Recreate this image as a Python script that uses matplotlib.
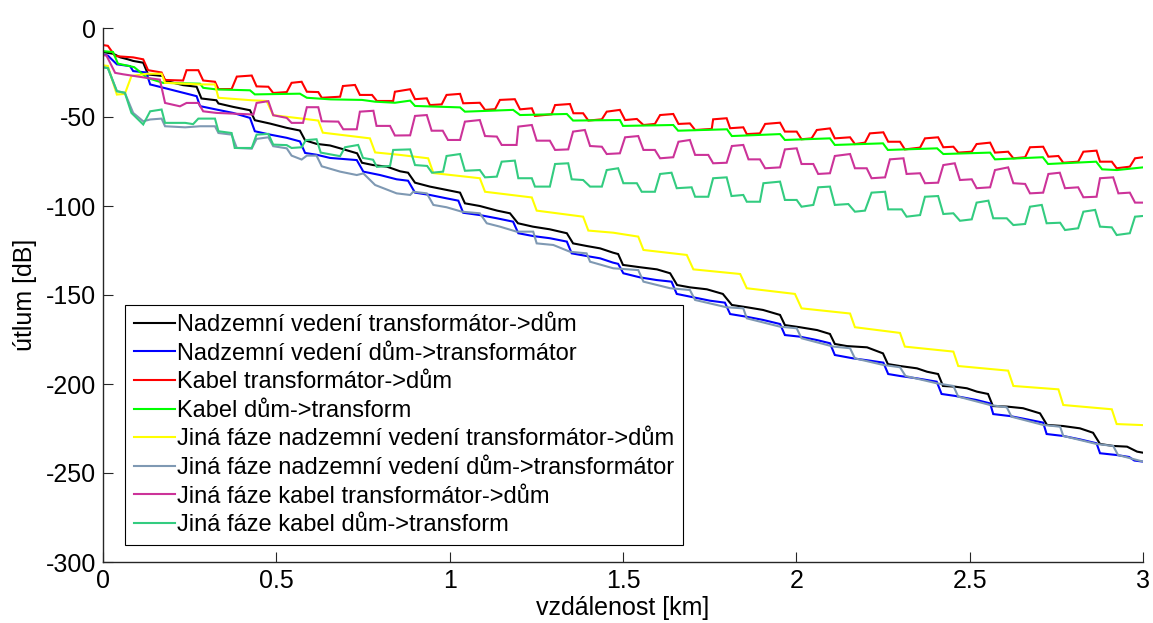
import matplotlib
matplotlib.use("Agg")
import matplotlib.pyplot as plt

plt.rcParams['font.family'] = ['Liberation Sans', 'DejaVu Sans']

# ---------------- data (km, dB) ----------------
labels = [
    "Nadzemní vedení transformátor->dům",
    "Nadzemní vedení dům->transformátor",
    "Kabel transformátor->dům",
    "Kabel dům->transform",
    "Jiná fáze nadzemní vedení transformátor->dům",
    "Jiná fáze nadzemní vedení dům->transformátor",
    "Jiná fáze kabel transformátor->dům",
    "Jiná fáze kabel dům->transform",
]

black_pts = [(0, -13.5), (0.030, -14.5), (0.050, -16.5), (0.072, -17.6), (0.087, -18.5), (0.116, -19.5),
             (0.130, -26.1), (0.173, -27), (0.179, -29.6), (0.231, -32.1), (0.270, -33), (0.284, -39.6),
             (0.327, -40.6), (0.333, -42.4), (0.375, -44.3), (0.424, -46.2), (0.438, -51.8), (0.482, -53.7),
             (0.530, -56.1), (0.568, -57.6), (0.583, -63.1), (0.616, -65.1), (0.655, -66), (0.684, -67.6),
             (0.733, -70.4), (0.747, -75.7), (0.779, -77), (0.819, -77.9), (0.857, -80.5), (0.880, -81.3),
             (0.900, -86.9), (0.943, -89.1), (0.992, -91), (1.030, -92.5), (1.044, -98.5), (1.087, -100),
             (1.137, -102.6), (1.174, -104.1), (1.197, -109.7), (1.240, -111.6), (1.289, -113.1), (1.338, -115.3),
             (1.356, -121), (1.396, -122.5), (1.434, -123.8), (1.471, -126.2), (1.486, -127), (1.500, -133.1),
             (1.549, -134.4), (1.598, -135.6), (1.636, -137.8), (1.656, -144.4), (1.693, -145.7), (1.742, -146.8),
             (1.788, -149.4), (1.814, -155.6), (1.858, -156.9), (1.904, -158.4), (1.953, -161.2), (1.967, -166.9),
             (2.010, -168.1), (2.060, -169.7), (2.097, -171.9), (2.111, -177.5), (2.146, -178.7), (2.204, -179.4),
             (2.250, -182.8), (2.264, -188.8), (2.299, -189.9), (2.348, -191.2), (2.377, -193.1), (2.409, -194.4),
             (2.423, -201.1), (2.458, -201.5), (2.492, -202.4), (2.521, -204.3), (2.553, -205.6), (2.567, -212.4),
             (2.608, -212.7), (2.654, -213.6), (2.703, -216.5), (2.723, -223), (2.769, -223.6), (2.818, -224.9),
             (2.856, -227.4), (2.876, -233.7), (2.914, -234.8), (2.954, -235.2), (2.983, -238), (3.0, -238.6)]

blue_pts = [(0, -14.8), (0.014, -15.5), (0.040, -20.4), (0.078, -21.4), (0.087, -24.2), (0.125, -25),
            (0.136, -31.7), (0.175, -33.6), (0.270, -38.3), (0.280, -43.9), (0.327, -45.8), (0.375, -47.7),
            (0.424, -50.5), (0.438, -58), (0.482, -59.9), (0.530, -61.7), (0.568, -63.7), (0.583, -70.2),
            (0.616, -71.2), (0.655, -73), (0.732, -74.2), (0.751, -80.7), (0.799, -82.6), (0.847, -85),
            (0.880, -85.8), (0.900, -92.5), (0.943, -93.8), (0.991, -95.7), (1.025, -97), (1.039, -103.8),
            (1.087, -105.1), (1.136, -106.9), (1.183, -108.8), (1.198, -115.3), (1.241, -116.9), (1.289, -118.1),
            (1.338, -120), (1.352, -126.6), (1.395, -128.1), (1.434, -129.4), (1.471, -131.8), (1.486, -132.5),
            (1.501, -137.8), (1.549, -140.1), (1.597, -141.6), (1.640, -142.5), (1.655, -149.4), (1.703, -151.3),
            (1.751, -153.2), (1.794, -154.3), (1.809, -160.7), (1.856, -162.2), (1.904, -164), (1.953, -166.3),
            (1.967, -172.5), (2.010, -173.4), (2.059, -175.3), (2.097, -177.1), (2.111, -183.7), (2.164, -185.6),
            (2.213, -186.9), (2.251, -188), (2.265, -194.4), (2.299, -195.5), (2.347, -196.8), (2.405, -198.7),
            (2.419, -205.6), (2.458, -206.7), (2.520, -209), (2.559, -210.9), (2.568, -216.9), (2.616, -218),
            (2.674, -220.2), (2.712, -221.7), (2.722, -228.1), (2.770, -229.2), (2.818, -231.1), (2.866, -233.3),
            (2.876, -238.9), (2.924, -239.9), (2.960, -241), (2.975, -243), (3.0, -243.6)]

red_pts = [(0, -9.6), (0.014, -10), (0.035, -15.8), (0.087, -16.5), (0.116, -17.6), (0.130, -23.7),
           (0.169, -25), (0.179, -29.2), (0.231, -29.5), (0.241, -23.7), (0.275, -23.7), (0.289, -29.5),
           (0.323, -30.2), (0.333, -34.3), (0.371, -34.3), (0.386, -27.3), (0.429, -26.7), (0.443, -32.8),
           (0.477, -33), (0.491, -36.5), (0.530, -36), (0.544, -30.8), (0.573, -30.2), (0.588, -35.8),
           (0.621, -36), (0.631, -39.2), (0.684, -38.6), (0.692, -32.6), (0.727, -32), (0.741, -37.6),
           (0.776, -37.6), (0.790, -41), (0.837, -41), (0.842, -35.8), (0.886, -34.4), (0.900, -40),
           (0.934, -39.5), (0.943, -43.3), (0.977, -42.9), (0.991, -37.6), (1.030, -37), (1.039, -42.3),
           (1.087, -42), (1.102, -46), (1.131, -45.6), (1.145, -40.4), (1.188, -40), (1.203, -45.7),
           (1.237, -45.1), (1.246, -49.4), (1.294, -48.5), (1.304, -43.3), (1.347, -42.7), (1.357, -47.9),
           (1.385, -47.9), (1.400, -52), (1.439, -51.3), (1.453, -47), (1.491, -46), (1.506, -51.7),
           (1.540, -51.1), (1.559, -54.5), (1.592, -53.9), (1.607, -48.9), (1.645, -48.3), (1.660, -53.9),
           (1.693, -53.6), (1.708, -57.3), (1.756, -56.7), (1.760, -51.3), (1.799, -50.7), (1.809, -56.3),
           (1.847, -55.8), (1.857, -59.6), (1.895, -59.2), (1.910, -53.9), (1.953, -53.2), (1.967, -58.2),
           (2.001, -58.2), (2.015, -62.5), (2.044, -62), (2.059, -57.3), (2.097, -56.4), (2.111, -62),
           (2.155, -61.4), (2.169, -65.2), (2.198, -64.4), (2.212, -59.2), (2.251, -58.6), (2.265, -63.9),
           (2.299, -63.9), (2.313, -68.2), (2.357, -67.2), (2.371, -62), (2.409, -61.4), (2.424, -67),
           (2.453, -66.7), (2.467, -70), (2.506, -69.5), (2.520, -65.2), (2.559, -64.4), (2.573, -70),
           (2.611, -69.5), (2.626, -73.2), (2.660, -72.6), (2.674, -67), (2.712, -66.7), (2.727, -72.3),
           (2.756, -71.9), (2.770, -75.7), (2.813, -75.1), (2.828, -69.5), (2.866, -68.9), (2.876, -75.1),
           (2.910, -75.1), (2.924, -78.8), (2.962, -77.9), (2.977, -73.2), (3.0, -72.6)]

green_pts = [(0, -13), (0.029, -13.5), (0.043, -20), (0.090, -22), (0.127, -28), (0.173, -30.8),
             (0.280, -31.3), (0.289, -33.6), (0.327, -34.5), (0.424, -35), (0.438, -37.3), (0.568, -36.9),
             (0.588, -39.2), (0.657, -40.1), (0.747, -40.4), (0.785, -41.4), (0.842, -42), (0.886, -40.8),
             (0.900, -43.8), (1.030, -44.6), (1.044, -47), (1.183, -46), (1.203, -48.9), (1.338, -48.3),
             (1.356, -52), (1.491, -51.7), (1.500, -55), (1.645, -54.5), (1.659, -57.7), (1.800, -56.9),
             (1.814, -60.7), (1.953, -59.6), (1.967, -62.9), (2.097, -62), (2.111, -65.7), (2.250, -64.8),
             (2.264, -68.5), (2.406, -67.6), (2.424, -70.8), (2.559, -70), (2.573, -73.8), (2.711, -72.6),
             (2.726, -76.4), (2.865, -75.1), (2.882, -79.4), (2.925, -79.8), (3.0, -78.3)]

yellow_pts = [(0, -21), (0.014, -21.3), (0.040, -37.4), (0.063, -37), (0.082, -27), (0.127, -25.7),
              (0.169, -25.7), (0.179, -30.8), (0.280, -31.7), (0.323, -31.7), (0.333, -39.2), (0.429, -40.6),
              (0.472, -41), (0.491, -49), (0.570, -50.8), (0.621, -52), (0.634, -58.8), (0.770, -62),
              (0.785, -69.9), (0.857, -71.3), (0.938, -73.2), (0.953, -81.5), (1.087, -84.4), (1.102, -92),
              (1.237, -95.2), (1.251, -102.6), (1.385, -106), (1.400, -113.8), (1.472, -115), (1.544, -117.2),
              (1.559, -124.7), (1.684, -127.5), (1.703, -135.6), (1.838, -138.2), (1.857, -146.2), (1.996, -149.4),
              (2.015, -157.5), (2.155, -160.4), (2.169, -168.1), (2.299, -171.3), (2.313, -179), (2.453, -181.8),
              (2.467, -189.9), (2.611, -192.5), (2.626, -201.1), (2.756, -203), (2.770, -211.8), (2.910, -214.2),
              (2.924, -222.5), (3.0, -223.1)]

gray_pts = [(0, -22.1), (0.014, -22.5), (0.040, -35.5), (0.063, -36.4), (0.087, -47.7), (0.116, -52.4),
            (0.136, -51.4), (0.169, -50.9), (0.179, -55.2), (0.237, -55.8), (0.280, -55.2), (0.323, -55.2),
            (0.333, -59), (0.371, -59.9), (0.386, -67.4), (0.429, -67.8), (0.443, -62.3), (0.477, -61.4),
            (0.491, -66.4), (0.530, -67.6), (0.544, -71.7), (0.573, -73.9), (0.588, -71.7), (0.616, -71.7),
            (0.631, -77.7), (0.684, -80.7), (0.732, -82.6), (0.751, -81.7), (0.785, -88.2), (0.847, -92.9),
            (0.886, -93.8), (0.895, -92), (0.934, -92.9), (0.953, -99.4), (0.991, -100.7), (1.035, -103.2),
            (1.087, -104.1), (1.107, -109.7), (1.145, -111.6), (1.193, -114.4), (1.241, -114.4), (1.251, -121),
            (1.299, -121.9), (1.347, -125.7), (1.395, -126.6), (1.405, -131.3), (1.472, -135), (1.544, -136),
            (1.559, -142.5), (1.636, -146.2), (1.693, -147.2), (1.708, -152.8), (1.799, -156.9), (1.847, -157.5),
            (1.857, -163.1), (1.953, -167.8), (2.001, -168.7), (2.015, -174.3), (2.107, -179), (2.155, -179.9),
            (2.169, -185.6), (2.251, -189.3), (2.299, -190.6), (2.315, -195.5), (2.405, -199.6), (2.453, -201.1),
            (2.467, -207.1), (2.559, -211.8), (2.607, -213.1), (2.621, -218.4), (2.712, -223), (2.761, -224),
            (2.770, -229.2), (2.866, -233.7), (2.914, -234.8), (2.928, -239.9), (3.0, -243.6)]

magenta_pts = [(0, -15.2), (0.010, -15.5), (0.035, -25.2), (0.058, -26), (0.125, -28), (0.164, -29),
               (0.179, -42.1), (0.222, -44), (0.241, -42.1), (0.275, -42.1), (0.289, -46.8), (0.327, -47.7),
               (0.434, -48.6), (0.443, -42.1), (0.477, -41.1), (0.491, -49), (0.530, -50.5), (0.544, -53.3),
               (0.577, -53.3), (0.588, -44.5), (0.621, -44.5), (0.631, -52.4), (0.679, -52.6), (0.693, -56.9),
               (0.732, -56.9), (0.741, -47), (0.780, -46.5), (0.789, -55), (0.828, -55), (0.842, -60.4),
               (0.886, -60.3), (0.900, -49.4), (0.934, -48.9), (0.948, -57.7), (0.980, -57.7), (0.995, -62.9),
               (1.030, -62.9), (1.044, -52.6), (1.087, -51.7), (1.102, -60.7), (1.136, -61), (1.150, -65.7),
               (1.193, -65.7), (1.198, -55.4), (1.237, -54.5), (1.251, -63.3), (1.289, -63.3), (1.304, -68.5),
               (1.342, -68.2), (1.356, -58.2), (1.390, -57.3), (1.405, -66.3), (1.439, -66.7), (1.453, -70.8),
               (1.491, -70.4), (1.506, -61.4), (1.544, -60.7), (1.559, -68.5), (1.592, -68.5), (1.607, -73.2),
               (1.645, -72.6), (1.660, -63.9), (1.693, -62.9), (1.708, -71.3), (1.746, -71.3), (1.760, -76),
               (1.799, -75.7), (1.814, -66.3), (1.847, -65.7), (1.862, -73.8), (1.895, -73.8), (1.910, -78.8),
               (1.953, -78.3), (1.967, -68.2), (2.001, -67.6), (2.015, -76.4), (2.049, -76.4), (2.063, -82),
               (2.097, -81.6), (2.111, -71.9), (2.155, -70.8), (2.169, -78.8), (2.203, -78.8), (2.217, -84.4),
               (2.256, -83.9), (2.270, -73.8), (2.309, -73.2), (2.318, -82), (2.357, -81.6), (2.371, -87.2),
               (2.409, -86.9), (2.424, -77), (2.457, -76), (2.472, -85.4), (2.506, -85), (2.520, -90),
               (2.559, -89.5), (2.573, -79.8), (2.611, -78.3), (2.626, -87.2), (2.660, -87.6), (2.674, -92.9),
               (2.712, -92.5), (2.727, -82), (2.760, -81.3), (2.775, -90), (2.813, -89.5), (2.828, -95.1),
               (2.866, -94.8), (2.876, -84.4), (2.914, -83.9), (2.929, -92.9), (2.962, -92.5), (2.977, -98.1),
               (3.0, -98.1)]

teal_pts = [(0, -22.1), (0.014, -22.5), (0.040, -35.5), (0.063, -36.4), (0.082, -47.7), (0.116, -54.2),
            (0.136, -46.8), (0.169, -45.8), (0.179, -53.3), (0.237, -53.3), (0.260, -54), (0.275, -50.9),
            (0.323, -50.9), (0.333, -58), (0.371, -59), (0.380, -67.4), (0.429, -67.4), (0.443, -59.9),
            (0.477, -59.5), (0.491, -65.5), (0.530, -65.8), (0.544, -67.4), (0.573, -67), (0.585, -63),
            (0.616, -62.5), (0.628, -70), (0.684, -72), (0.698, -67), (0.736, -65.7), (0.750, -73),
            (0.779, -74), (0.790, -78), (0.828, -77.5), (0.837, -68.5), (0.886, -68.2), (0.900, -77),
            (0.935, -77.5), (0.949, -81.3), (0.981, -80.7), (0.991, -71.9), (1.030, -70.8), (1.044, -80.2),
            (1.087, -79.8), (1.102, -83.9), (1.136, -83.5), (1.150, -75.1), (1.188, -74.5), (1.198, -84.4),
            (1.237, -84.4), (1.246, -89.1), (1.289, -89.1), (1.304, -76.4), (1.342, -76), (1.352, -85),
            (1.385, -85.4), (1.405, -89.1), (1.439, -89.1), (1.453, -79.8), (1.486, -78.8), (1.501, -87.2),
            (1.540, -87.2), (1.554, -92), (1.592, -92), (1.607, -82), (1.640, -81.3), (1.655, -90),
            (1.698, -89.5), (1.708, -94.8), (1.746, -94.8), (1.760, -84.4), (1.799, -83.9), (1.813, -94.4),
            (1.847, -93.8), (1.857, -97.6), (1.895, -97.6), (1.905, -87.2), (1.953, -86.3), (1.967, -96.6),
            (2.001, -96.6), (2.015, -100.4), (2.049, -99.4), (2.063, -89.5), (2.097, -89.1), (2.111, -99.4),
            (2.150, -98.9), (2.169, -103.2), (2.198, -102.6), (2.217, -92.5), (2.256, -92), (2.265, -101.9),
            (2.304, -101.9), (2.318, -106), (2.357, -105.1), (2.371, -94.8), (2.409, -94.4), (2.424, -104.5),
            (2.453, -104.1), (2.472, -108.3), (2.506, -107.5), (2.520, -98.1), (2.554, -97), (2.568, -106.9),
            (2.607, -106.9), (2.626, -110.7), (2.660, -110.1), (2.674, -100.4), (2.708, -99.4), (2.722, -109.7),
            (2.761, -109.4), (2.775, -113.5), (2.813, -112.5), (2.828, -103.2), (2.862, -102.2), (2.876, -111.6),
            (2.910, -112), (2.924, -116.3), (2.962, -115.3), (2.977, -106), (3.0, -105.6)]

x_ticks = [0, 0.5, 1, 1.5, 2, 2.5, 3]
x_ticklabels = ["0", "0.5", "1", "1.5", "2", "2.5", "3"]
y_ticks = [-300, -250, -200, -150, -100, -50, 0]
y_ticklabels = ["-300", "-250", "-200", "-150", "-100", "-50", "0"]

series = [black_pts, blue_pts, red_pts, green_pts, yellow_pts, gray_pts, magenta_pts, teal_pts]
colors = ["#000000", "#0000ff", "#ff0000", "#00ff00", "#ffff00", "#7f99b3", "#cc3399", "#33cc80"]

# ---------------- figure ----------------
fig = plt.figure(figsize=(11.53, 6.23), dpi=100)
ax = fig.add_axes([103 / 1153, 1 - 562 / 623, 1040 / 1153, 534 / 623])

for pts, c, lab in zip(series, colors, labels):
    xs = [p[0] for p in pts]
    ys = [p[1] for p in pts]
    ax.plot(xs, ys, color=c, lw=1.5, label=lab, solid_joinstyle='miter')

ax.set_xlim(0, 3)
ax.set_ylim(-300, 0)
ax.set_xticks(x_ticks)
ax.set_xticklabels(x_ticklabels)
ax.set_yticks(y_ticks)
ax.set_yticklabels(y_ticklabels)

for s in ["top", "right"]:
    ax.spines[s].set_visible(False)
for s in ["left", "bottom"]:
    ax.spines[s].set_color("#262626")
    ax.spines[s].set_linewidth(1.0)

ax.tick_params(direction="in", length=7, width=0.8, colors="#262626", labelcolor="black",
               labelsize=18, pad=5)

ax.set_xlabel("vzdálenost [km]", fontsize=18, labelpad=2)
ax.set_ylabel("útlum [dB]", fontsize=18, labelpad=6)

leg = ax.legend(loc="lower left", bbox_to_anchor=(0.0212, 0.0318), borderaxespad=0,
                fontsize=17, frameon=True, fancybox=False, framealpha=1, edgecolor="black",
                handlelength=1.75, handletextpad=0.1, labelspacing=0.28, borderpad=0.37)
leg.get_frame().set_linewidth(0.8)

fig.savefig("out.png", dpi=100)
